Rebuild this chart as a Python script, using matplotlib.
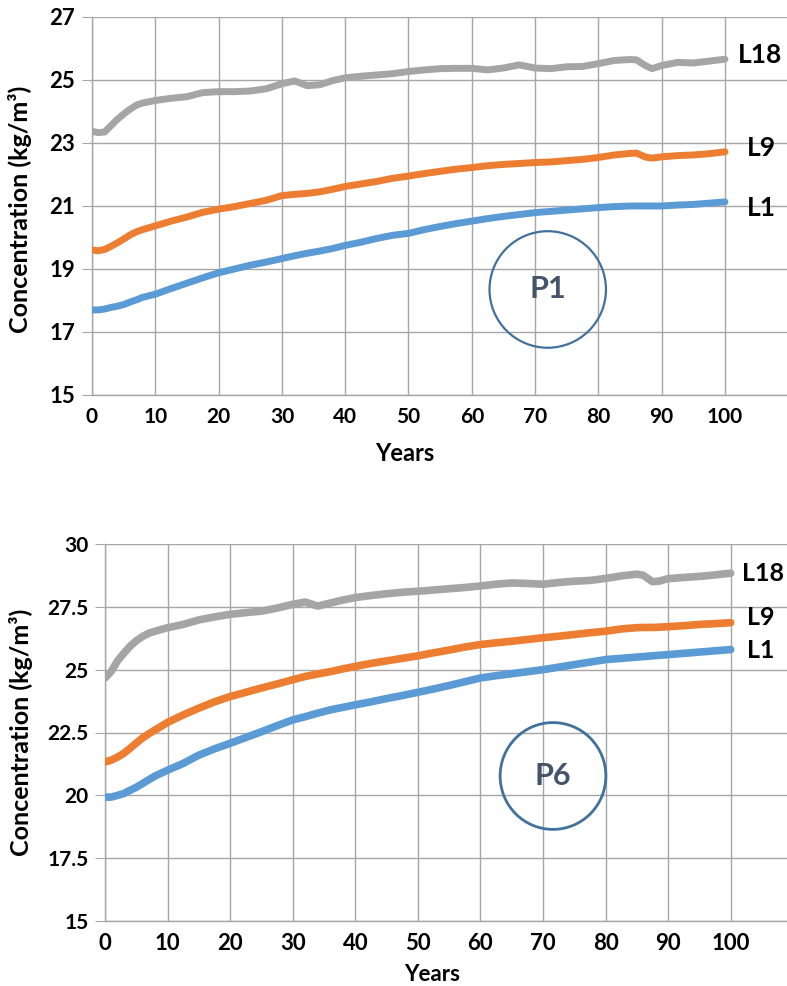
import matplotlib
matplotlib.use("Agg")
import matplotlib.pyplot as plt
from matplotlib.patches import Ellipse

# years shared by all curves
years = [0, 1, 2, 3, 4, 5, 6, 7, 8, 10, 12.5, 15, 17.5, 20, 22.5, 25, 27.5, 30,
         32, 34, 36, 38, 40, 42.5, 45, 47.5, 50, 52.5, 55, 57.5, 60, 62.5, 65,
         67.5, 70, 72.5, 75, 77.5, 80, 82.5, 85, 86, 87.5, 88.5, 90, 92.5, 95,
         97.5, 100]

# P1 (top panel)
p1_l18 = [23.37, 23.33, 23.35, 23.55, 23.75, 23.92, 24.07, 24.2, 24.27, 24.35,
          24.42, 24.47, 24.6, 24.63, 24.63, 24.65, 24.72, 24.88, 24.97, 24.82,
          24.85, 24.98, 25.07, 25.12, 25.16, 25.2, 25.27, 25.32, 25.36, 25.37,
          25.37, 25.32, 25.38, 25.48, 25.38, 25.36, 25.42, 25.43, 25.52, 25.62,
          25.65, 25.64, 25.45, 25.36, 25.46, 25.56, 25.54, 25.6, 25.66]
p1_l9 = [19.6, 19.58, 19.62, 19.72, 19.83, 19.95, 20.08, 20.18, 20.25, 20.37,
         20.52, 20.65, 20.8, 20.9, 20.98, 21.08, 21.18, 21.33, 21.37, 21.4,
         21.45, 21.53, 21.62, 21.7, 21.78, 21.88, 21.95, 22.03, 22.1, 22.17,
         22.22, 22.28, 22.32, 22.35, 22.38, 22.4, 22.44, 22.48, 22.54, 22.62,
         22.67, 22.68, 22.55, 22.52, 22.56, 22.6, 22.62, 22.66, 22.72]
p1_l1 = [17.7, 17.7, 17.73, 17.78, 17.82, 17.87, 17.95, 18.02, 18.1, 18.2,
         18.38, 18.55, 18.72, 18.88, 19.0, 19.12, 19.22, 19.33, 19.42, 19.5,
         19.57, 19.65, 19.75, 19.85, 19.97, 20.07, 20.13, 20.25, 20.35, 20.44,
         20.52, 20.6, 20.67, 20.73, 20.79, 20.83, 20.87, 20.91, 20.95, 20.98,
         21.0, 21.0, 21.0, 21.0, 21.0, 21.03, 21.05, 21.09, 21.13]

# P6 (bottom panel)
p6_l18 = [24.67, 24.93, 25.35, 25.65, 25.93, 26.15, 26.32, 26.45, 26.53, 26.67,
          26.8, 26.98, 27.1, 27.2, 27.27, 27.33, 27.45, 27.6, 27.69, 27.53,
          27.65, 27.77, 27.87, 27.95, 28.02, 28.08, 28.12, 28.17, 28.22, 28.27,
          28.33, 28.4, 28.45, 28.43, 28.4, 28.47, 28.52, 28.55, 28.63, 28.73,
          28.8, 28.76, 28.5, 28.52, 28.62, 28.67, 28.71, 28.77, 28.84]
p6_l9 = [21.33, 21.4, 21.52, 21.67, 21.87, 22.08, 22.28, 22.45, 22.6, 22.9,
         23.2, 23.47, 23.72, 23.93, 24.1, 24.27, 24.43, 24.6, 24.73, 24.83,
         24.92, 25.03, 25.13, 25.25, 25.35, 25.45, 25.55, 25.67, 25.78, 25.9,
         26.0, 26.07, 26.13, 26.2, 26.27, 26.33, 26.4, 26.47, 26.53, 26.62,
         26.67, 26.68, 26.68, 26.69, 26.71, 26.75, 26.8, 26.83, 26.87]
p6_l1 = [19.93, 19.93, 20.0, 20.07, 20.2, 20.32, 20.47, 20.62, 20.77, 21.0,
         21.27, 21.6, 21.85, 22.07, 22.3, 22.53, 22.77, 23.0, 23.13, 23.27,
         23.4, 23.5, 23.6, 23.72, 23.85, 23.97, 24.1, 24.23, 24.37, 24.52,
         24.67, 24.76, 24.84, 24.92, 25.0, 25.1, 25.2, 25.3, 25.4, 25.45,
         25.5, 25.52, 25.55, 25.57, 25.6, 25.65, 25.7, 25.75, 25.8]

series_names = ["L1", "L9", "L18"]
colors = {"L1": "#5B9BD5", "L9": "#ED7D31", "L18": "#A5A5A5"}
x_ticks = list(range(0, 101, 10))

GRID = "#A6A6A6"
CIRCLE = "#41719C"
PTXT = "#44546A"
FONT = ["Lato", "DejaVu Sans"]

fig = plt.figure(figsize=(7.87, 9.86), dpi=100)


def style_axes(ax, xlim, ylim, yticks, ylabels, ysize, xsize):
    ax.set_xlim(*xlim)
    ax.set_ylim(*ylim)
    ax.set_xticks(x_ticks)
    ax.set_xticklabels([str(t) for t in x_ticks], family=FONT,
                       fontweight="bold", fontsize=xsize)
    ax.set_yticks(yticks)
    ax.set_yticklabels(ylabels, family=FONT, fontweight="bold", fontsize=ysize)
    ax.grid(True, color=GRID, linewidth=1.0)
    ax.set_axisbelow(True)
    for s in ["top", "right"]:
        ax.spines[s].set_visible(False)
    for s in ["left", "bottom"]:
        ax.spines[s].set_color(GRID)
        ax.spines[s].set_linewidth(1.0)
    ax.tick_params(axis="y", length=7, color=GRID, pad=5)
    ax.tick_params(axis="x", length=0, pad=9)


# ---- top panel (P1)
ax1 = fig.add_axes([92 / 787, 1 - 395 / 986, 695 / 787, 378 / 986])
p1 = {"L1": p1_l1, "L9": p1_l9, "L18": p1_l18}
for name in series_names:
    ax1.plot(years, p1[name], color=colors[name], linewidth=5,
             solid_capstyle="round", zorder=3)
style_axes(ax1, (0, 109.8), (15, 27), [15, 17, 19, 21, 23, 25, 27],
           ["15", "17", "19", "21", "23", "25", "27"], 16, 15)
ax1.set_ylabel("Concentration (kg/m³)", family=FONT, fontweight="bold",
               fontsize=18)
ax1.yaxis.set_label_coords(-0.086, 0.49)
ax1.set_xlabel("Years", family=FONT, fontweight="bold", fontsize=17)
ax1.xaxis.set_label_coords(0.45, -0.125)

labels_p1 = {"L18": (102.0, 25.79), "L9": (103.4, 22.84), "L1": (103.4, 20.94)}
for name, (lx, ly) in labels_p1.items():
    ax1.text(lx, ly, name, family=FONT, fontweight="bold", fontsize=19,
             ha="left", va="center", color="black", zorder=5)

ax1.add_patch(Ellipse((72, 18.35), 18.4, 3.7, fill=False, edgecolor=CIRCLE,
                      linewidth=1.6, zorder=4))
ax1.text(72, 18.35, "P1", family=FONT, fontweight="bold", fontsize=22,
         color=PTXT, ha="center", va="center", zorder=5)

# ---- bottom panel (P6)
ax2 = fig.add_axes([105 / 787, 1 - 921 / 986, 682 / 787, 377 / 986])
p6 = {"L1": p6_l1, "L9": p6_l9, "L18": p6_l18}
for name in series_names:
    ax2.plot(years, p6[name], color=colors[name], linewidth=5.5,
             solid_capstyle="round", zorder=3)
style_axes(ax2, (0, 109), (15, 30), [15, 17.5, 20, 22.5, 25, 27.5, 30],
           ["15", "17.5", "20", "22.5", "25", "27.5", "30"], 15, 16)
ax2.set_ylabel("Concentration (kg/m³)", family=FONT, fontweight="bold",
               fontsize=18)
ax2.yaxis.set_label_coords(-0.106, 0.5)
ax2.set_xlabel("Years", family=FONT, fontweight="bold", fontsize=16)
ax2.xaxis.set_label_coords(0.48, -0.113)

labels_p6 = {"L18": (101.8, 28.81), "L9": (102.6, 27.06), "L1": (102.6, 25.78)}
for name, (lx, ly) in labels_p6.items():
    ax2.text(lx, ly, name, family=FONT, fontweight="bold", fontsize=18,
             ha="left", va="center", color="black", zorder=5)

ax2.add_patch(Ellipse((71.6, 20.77), 16.9, 4.25, fill=False, edgecolor=CIRCLE,
                      linewidth=2.0, zorder=4))
ax2.text(71.6, 20.77, "P6", family=FONT, fontweight="bold", fontsize=22,
         color=PTXT, ha="center", va="center", zorder=5)

fig.savefig("out.png", dpi=100)
